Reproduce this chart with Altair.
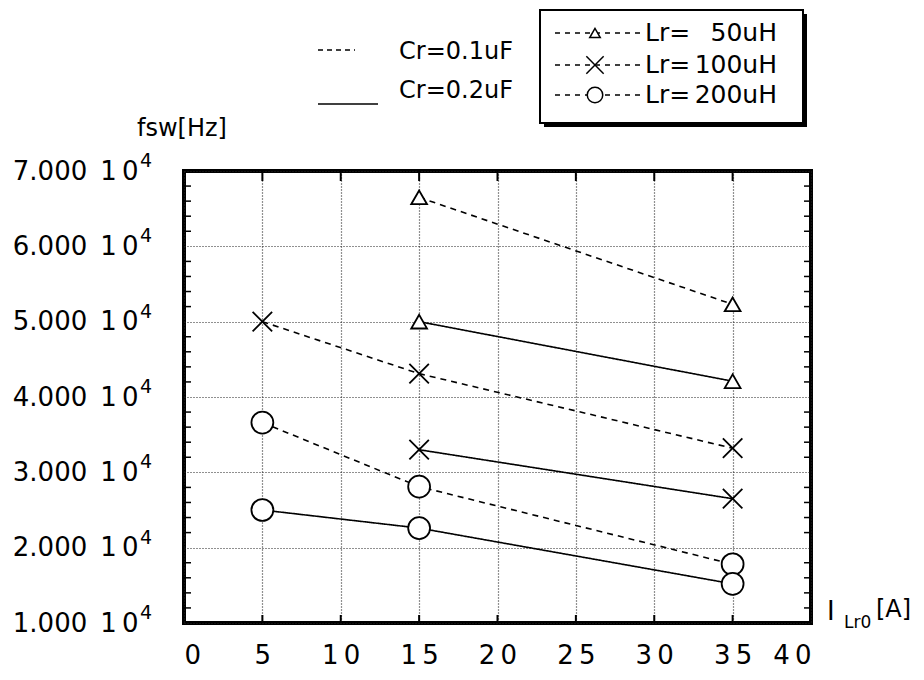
import altair as alt
import pandas as pd

# ---------------- data ----------------
I_two = [15, 35]
I_three = [5, 15, 35]

f_lr50_cr01 = [66500, 52300]
f_lr50_cr02 = [50000, 42100]
f_lr100_cr01 = [50000, 43100, 33200]
f_lr100_cr02 = [33000, 26500]
f_lr200_cr01 = [36600, 28100, 17800]
f_lr200_cr02 = [25000, 22600, 15200]

x_ticks = [0, 5, 10, 15, 20, 25, 30, 35, 40]
x_inner_ticks = [5, 10, 15, 20, 25, 30, 35]
y_ticks = [10000, 20000, 30000, 40000, 50000, 60000, 70000]
y_minor = [12000, 14000, 16000, 18000, 22000, 24000, 26000, 28000,
           32000, 34000, 36000, 38000, 42000, 44000, 46000, 48000,
           52000, 54000, 56000, 58000, 62000, 64000, 66000, 68000]

series = [
    ("50", "0.1", I_two, f_lr50_cr01),
    ("50", "0.2", I_two, f_lr50_cr02),
    ("100", "0.1", I_three, f_lr100_cr01),
    ("100", "0.2", I_two, f_lr100_cr02),
    ("200", "0.1", I_three, f_lr200_cr01),
    ("200", "0.2", I_three, f_lr200_cr02),
]
rows = []
for lr, cr, xs_, fs in series:
    for x, f in zip(xs_, fs):
        rows.append({"I": x, "f": f, "Lr": lr, "Cr": cr, "key": lr + "_" + cr})
df = pd.DataFrame(rows)

FONT = "DejaVu Sans"
W, H = 627, 452

xs = alt.Scale(domain=[0, 40], nice=False, zero=False)
ys = alt.Scale(domain=[10000, 70000], nice=False, zero=False)

xaxis = alt.Axis(
    values=x_ticks, title=None, ticks=False, domain=False,
    labelExpr="replace(datum.label, /(\\d)(\\d)/, '$1\u2009$2')",
    labelFont=FONT, labelFontSize=26, labelColor="black", labelPadding=19,
    grid=True, gridDash=[1, 2], gridColor="#222", gridWidth=1.2)
yaxis = alt.Axis(
    values=y_ticks, title=None, ticks=False, domain=False,
    labelExpr="format(datum.value/10000,'.3f') + '\u2002' + '1\u20090'",
    labelFont=FONT, labelFontSize=26, labelColor="black", labelPadding=46,
    grid=True, gridDash=[1, 2], gridColor="#222", gridWidth=1.2)


def X(field):
    return alt.X(field, scale=xs, axis=xaxis)


def Y(field):
    return alt.Y(field, scale=ys, axis=yaxis)


# ---------------- main lines ----------------
lines = alt.Chart(df).mark_line(color="black", strokeWidth=1.6).encode(
    x=X("I:Q"), y=Y("f:Q"),
    strokeDash=alt.StrokeDash("Cr:N", scale=alt.Scale(domain=["0.1", "0.2"], range=[[6, 5], [1, 0]]), legend=None),
    detail="key:N",
)


def pts(lr, shape, size):
    return alt.Chart(df).transform_filter(alt.datum.Lr == lr).mark_point(
        filled=True, fill="white", stroke="black", strokeWidth=1.8, opacity=1, fillOpacity=1,
        shape=shape, size=size,
    ).encode(x=X("I:Q"), y=Y("f:Q"))


cross_path = "M-1,-1L1,1M-1,1L1,-1"
p50 = pts("50", "triangle-up", 250)
p100 = pts("100", cross_path, 380)
p200 = pts("200", "circle", 480)

# ---------------- superscripts on y labels ----------------
ydf = pd.DataFrame({"v": y_ticks})
sup = alt.Chart(ydf).mark_text(align="left", baseline="middle", font=FONT, fontSize=19, dy=-10, color="black").encode(
    y=Y("v:Q"), x=alt.value(-44), text=alt.value("4"))

# ---------------- inner ticks ----------------
mdf = pd.DataFrame({"v": y_minor})
left_ticks = alt.Chart(mdf).mark_rule(color="black", strokeWidth=1.5).encode(
    y=Y("v:Q"), x=alt.value(0), x2=alt.value(7))
right_ticks = alt.Chart(mdf).mark_rule(color="black", strokeWidth=1.5).encode(
    y=Y("v:Q"), x=alt.value(W - 7), x2=alt.value(W))
xdf = pd.DataFrame({"v": x_inner_ticks})
top_ticks = alt.Chart(xdf).mark_rule(color="black", strokeWidth=2).encode(
    x=X("v:Q"), y=alt.value(0), y2=alt.value(10))
bottom_ticks = alt.Chart(xdf).mark_rule(color="black", strokeWidth=2).encode(
    x=X("v:Q"), y=alt.value(H - 8), y2=alt.value(H))

# ---------------- annotations ----------------
one = pd.DataFrame({"a": [0]})


def txt(s, x, y, size=24, align="left", baseline="middle"):
    return alt.Chart(one).mark_text(align=align, baseline=baseline, font=FONT, fontSize=size, color="black").encode(
        x=alt.value(x), y=alt.value(y), text=alt.value(s))


def rule(x1, x2, y, dash=None, width=1.6):
    kw = {"color": "black", "strokeWidth": width}
    if dash:
        kw["strokeDash"] = dash
    return alt.Chart(one).mark_rule(**kw).encode(x=alt.value(x1), x2=alt.value(x2), y=alt.value(y))


def rect(x1, x2, y1, y2, fill, stroke=None, sw=0):
    kw = {"fill": fill}
    if stroke:
        kw["stroke"] = stroke
        kw["strokeWidth"] = sw
    return alt.Chart(one).mark_rect(**kw).encode(
        x=alt.value(x1), x2=alt.value(x2), y=alt.value(y1), y2=alt.value(y2))


def sym(x, y, shape, size):
    return alt.Chart(one).mark_point(filled=True, fill="white", stroke="black", strokeWidth=1.5,
                                     opacity=1, shape=shape, size=size).encode(x=alt.value(x), y=alt.value(y))


ytitle = txt("fsw[Hz]", -47, -35, size=24, baseline="alphabetic")
xt1 = txt("I", 643, 449, size=26, baseline="alphabetic")
xt2 = txt("Lr0", 660, 457, size=17, baseline="alphabetic")
xt3 = txt("[A]", 692, 446, size=24, baseline="alphabetic")

# Cr legend
cr_leg = [
    rule(134, 171, -121, dash=[5, 4]),
    txt("Cr=0.1uF", 329, -119, size=24, align="right"),
    rule(134, 194, -67),
    txt("Cr=0.2uF", 329, -80, size=24, align="right"),
]

# Lr legend box
row_y = [-138, -106, -76]
lr_leg = [
    rect(360, 623, -157, -44, "black"),
    rect(356, 619, -161, -48, "white", "black", 2),
]
labels_lr = ["50uH", "100uH", "200uH"]
shapes_lr = [("triangle-up", 110), (cross_path, 300), ("circle", 240)]
for yy, lab, (shp, sz) in zip(row_y, labels_lr, shapes_lr):
    lr_leg.append(rule(371, 456, yy, dash=[5, 5], width=1.4))
    lr_leg.append(sym(411, yy, shp, sz))
    lr_leg.append(txt("Lr=", 461, yy, size=25))
    lr_leg.append(txt(lab, 593, yy, size=25, align="right"))

chart = alt.layer(
    lines, left_ticks, right_ticks, top_ticks, bottom_ticks,
    p50, p100, p200, sup, ytitle, xt1, xt2, xt3, *cr_leg, *lr_leg,
).properties(
    width=W, height=H,
    autosize=alt.AutoSizeParams(type="none"),
    padding={"left": 176, "top": 163, "right": 105, "bottom": 48},
).configure_view(stroke="black", strokeWidth=4)

chart.save("out.html", embed_options={"renderer": "svg", "actions": False})
